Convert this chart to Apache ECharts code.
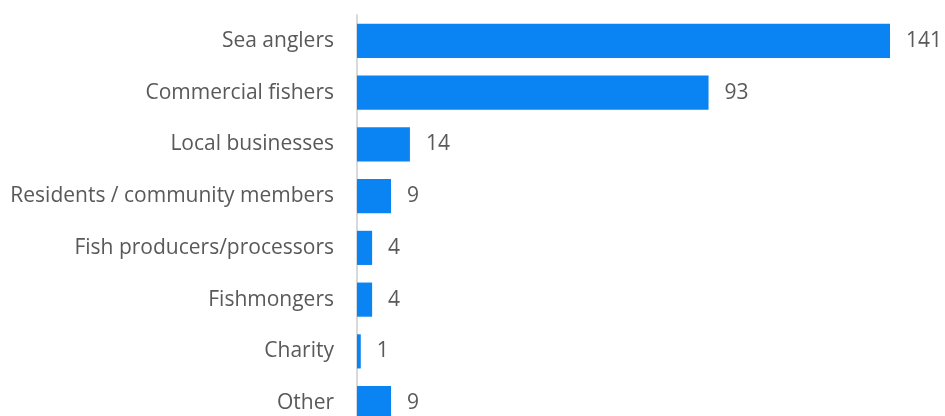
<!DOCTYPE html>
<html>
<head>
<meta charset="utf-8">
<script src="https://cdn.jsdelivr.net/npm/echarts@6/dist/echarts.min.js"></script>
<style>
  html, body { margin: 0; padding: 0; background: #fff; }
  #chart { width: 945px; height: 416px; }
</style>
</head>
<body>
<div id="chart"></div>
<script>
const categories = [
  'Sea anglers',
  'Commercial fishers',
  'Local businesses',
  'Residents / community members',
  'Fish producers/processors',
  'Fishmongers',
  'Charity',
  'Other'
];
const counts = [141, 93, 14, 9, 4, 4, 1, 9];

const chart = echarts.init(document.getElementById('chart'));

chart.setOption({
  animation: false,
  backgroundColor: '#fff',
  grid: {
    left: 357,
    top: 15,
    width: 533,
    height: 414,
    outerBoundsMode: 'none'
  },
  xAxis: {
    type: 'value',
    min: 0,
    max: 141,
    show: false
  },
  yAxis: {
    type: 'category',
    data: categories,
    inverse: true,
    axisLine: {
      show: true,
      lineStyle: { color: '#d9d9d9', width: 2 }
    },
    axisTick: { show: false },
    axisLabel: {
      color: '#595959',
      fontSize: 21,
      fontFamily: 'Open Sans',
      margin: 23
    }
  },
  series: [
    {
      type: 'bar',
      data: counts,
      barCategoryGap: '34%',
      itemStyle: { color: '#0a84f2' },
      label: {
        show: true,
        position: 'right',
        distance: 16,
        color: '#595959',
        fontSize: 21,
        fontFamily: 'Open Sans'
      }
    }
  ]
});
</script>
</body>
</html>
